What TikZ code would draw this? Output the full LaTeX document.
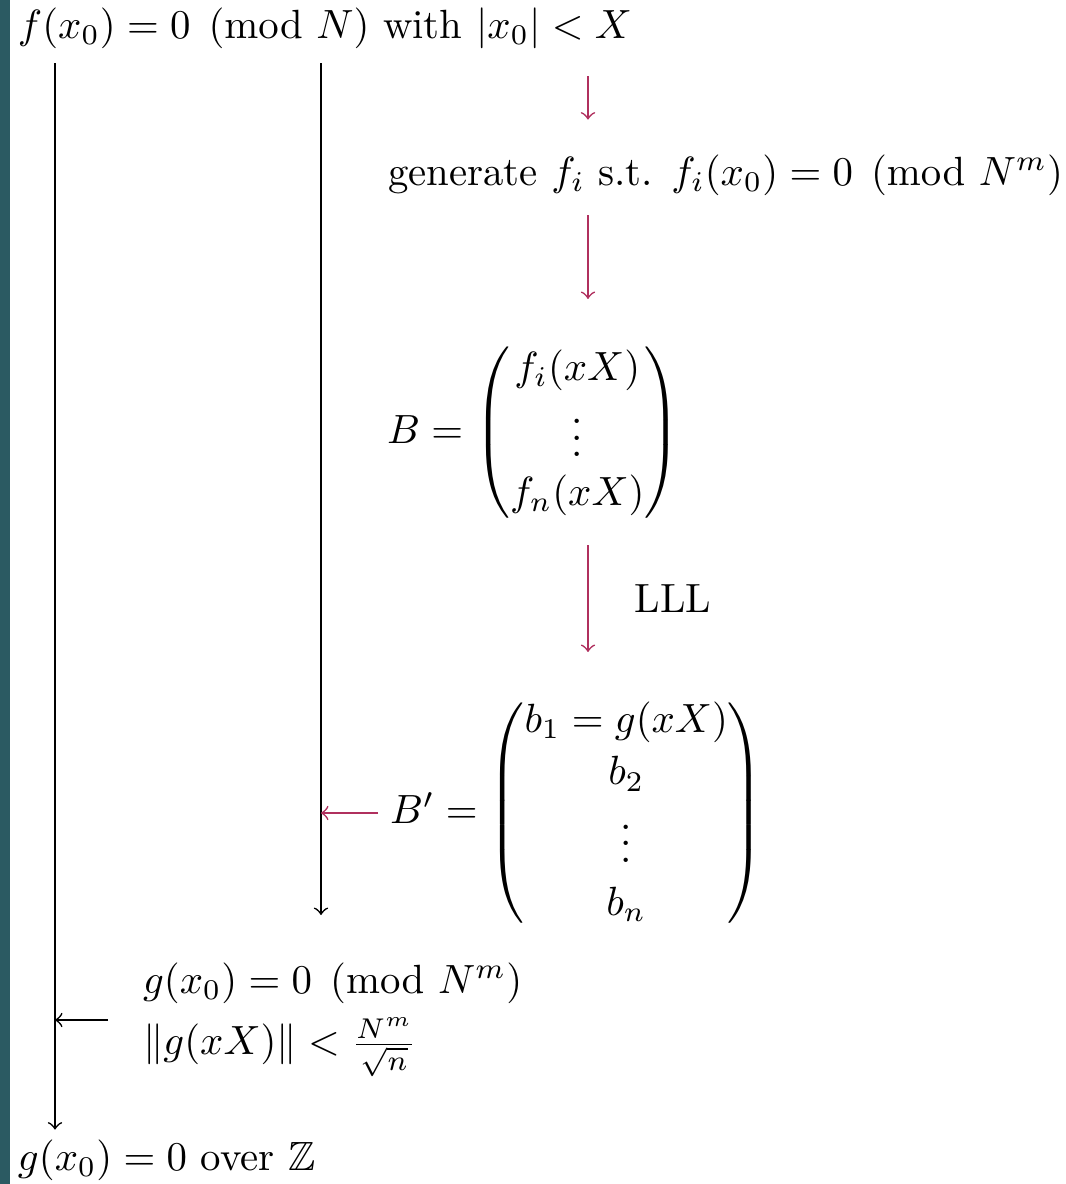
\documentclass[tikz,border=0pt]{standalone}
\usepackage{amsmath,amssymb}
\usetikzlibrary{calc}
\definecolor{strip}{HTML}{2B5A62}
\definecolor{arrpurple}{HTML}{B0305E}
\tikzset{
  lbl/.style={inner sep=0pt, outer sep=0pt},
  blk/.style={->, thin, black},
  prp/.style={->, thin, arrpurple},
}
\begin{document}
\begin{tikzpicture}[x=0.245pt,y=-0.245pt]
\useasboundingbox (0,0) rectangle (1065,1184);
\fill[strip] (0,0) rectangle (10,1184);
\node[lbl, anchor=west] (top) at (18,28) {$f(x_0)=0 \pmod{N}$ with $|x_0|<X$};
\node[lbl, anchor=west] (gen) at (388,175) {generate $f_i$ s.t. $f_i(x_0)=0 \pmod{N^m}$};
\node[lbl, anchor=west] (B) at (387,433) {$B=\begin{pmatrix} f_i(xX)\\ \vdots\\ f_n(xX)\end{pmatrix}$};
\node[lbl, anchor=west] (Bp) at (390,813) {\renewcommand{\arraystretch}{1.08}$B'=\begin{pmatrix} b_1=g(xX)\\ b_2\\ \vdots\\ b_n\end{pmatrix}$};
\node[lbl, anchor=west, align=left] (cond) at (143,1020) {$g(x_0)=0 \pmod{N^m}$\\[3pt] $\|g(xX)\|<\frac{N^m}{\sqrt{n}}$};
\node[lbl, anchor=west] (bot) at (18,1160) {$g(x_0)=0$ over $\mathbb{Z}$};
\coordinate (c1) at (55,0);
\coordinate (c2) at (321,0);
\coordinate (c3) at (588,0);
\coordinate (end2) at (321,915);
\draw[blk] ($(top.south -| c1)+(0,15)$) -- ($(bot.north -| c1)+(0,-10)$);
\draw[blk] ($(top.south -| c2)+(0,15)$) -- (end2);
\draw[prp] ($(top.south -| c3)+(0,28)$) -- ($(gen.north -| c3)+(0,-35)$);
\draw[prp] ($(gen.south -| c3)+(0,20)$) -- ($(B.north -| c3)+(0,-47)$);
\draw[prp] ($(B.south -| c3)+(0,25)$) -- node[lbl, right, xshift=11.5pt, text=black] (lll) {LLL} ($(Bp.north -| c3)+(0,-43)$);
\draw[prp] ($(Bp.west)+(-12,0)$) -- (Bp.west -| c2);
\draw[blk] ($(cond.west)+(-35,0)$) -- (cond.west -| c1);
\end{tikzpicture}
\end{document}
